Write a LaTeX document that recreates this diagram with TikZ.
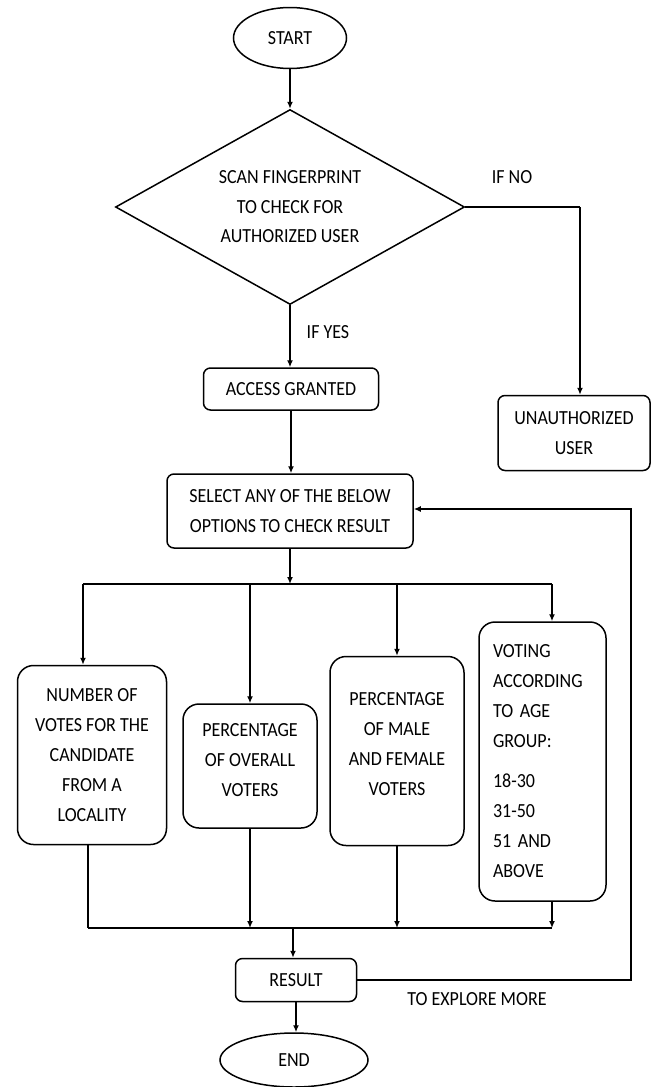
\documentclass[tikz,border=0pt]{standalone}
\usepackage{fontspec}
\setmainfont{Carlito}[FakeStretch=0.9]
\usetikzlibrary{shapes.geometric,arrows.meta}
\begin{document}
\begin{tikzpicture}[x=1pt,y=-1pt,
  every node/.style={font=\fontsize{20}{30}\selectfont},
  line/.style={line width=1.5pt},
  arr/.style={line, -{Latex[length=7pt,width=6pt]}},
  term/.style={draw, line width=1.5pt, ellipse, inner sep=0pt},
  box/.style={draw, line width=1.5pt, rounded corners=7pt, align=center, inner sep=0pt},
  tall/.style={box, rounded corners=16pt},
  lbl/.style={inner sep=0pt}
]
\fill[white] (0,0) rectangle (657,1087);
\useasboundingbox (0,0) rectangle (657,1087);

\node[term, minimum width=113pt, minimum height=61pt] (start) at (290,38) {START};
\node[draw, diamond, line width=1.5pt, aspect=1.79, inner sep=0pt, minimum width=349pt, minimum height=195pt, align=center, font=\fontsize{20}{29.5}\selectfont] (dec) at (290,207) {SCAN FINGERPRINT\\TO CHECK FOR\\AUTHORIZED USER};
\node[lbl] (ifno) at (512,177) {IF NO};
\coordinate (c1) at (580,207);
\node[box, minimum width=152pt, minimum height=75pt] (unauth) at (574,433) {UNAUTHORIZED\\USER};
\node[lbl] (ifyes) at (328,332) {IF YES};
\node[box, minimum width=175pt, minimum height=42pt] (access) at (291,389) {ACCESS GRANTED};
\node[box, minimum width=246pt, minimum height=74pt] (select) at (290,511) {SELECT ANY OF THE BELOW\\OPTIONS TO CHECK RESULT};
\coordinate (br) at (290,584);
\coordinate (bl) at (83,584);
\coordinate (brr) at (552,584);

\node[tall, minimum width=149pt, minimum height=179pt] (b1) at (92,755) {NUMBER OF\\VOTES FOR THE\\CANDIDATE\\FROM A\\LOCALITY};
\node[tall, minimum width=134pt, minimum height=124pt] (b2) at (250,766) {PERCENTAGE\\OF OVERALL\\VOTERS\\[-18pt]};
\node[tall, minimum width=134pt, minimum height=189pt] (b3) at (397,751) {PERCENTAGE\\OF MALE\\AND FEMALE\\VOTERS\\[-16pt]};
\node[tall, minimum width=127pt, minimum height=279pt, align=left, text width=99pt, inner xsep=14pt] (b4) at (542.5,761.5) {VOTING\\ACCORDING\\TO AGE\\GROUP:\\[10pt]18-30\\31-50\\51 AND\\ABOVE};

\coordinate (m1) at (88,928);
\coordinate (m4) at (552,928);
\coordinate (mr) at (293,928);
\node[box, minimum width=121pt, minimum height=43pt] (result) at (296,980) {RESULT};
\node[lbl] (explore) at (477,999) {TO EXPLORE MORE};
\node[term, minimum width=148pt, minimum height=54pt] (end) at (294,1060) {END};
\coordinate (fb) at (631,509);

% connectors
\draw[arr] (start) -- (dec);
\draw[line] (dec.east) -- (c1);
\draw[arr] (c1) -- (c1 |- unauth.north);
\draw[arr] (dec.south) -- (dec.south |- access.north);
\draw[arr] (access) -- (access.south |- select.north);
\draw[arr] (select.south) -- (br);
\draw[line] (bl) -- (brr);
\draw[arr] (bl) -- (bl |- b1.north);
\draw[arr] (bl -| b2.north) -- (b2.north);
\draw[arr] (bl -| b3.north) -- (b3.north);
\draw[arr] (brr) -- (brr |- b4.north);
\draw[line] (b1.south -| m1) -- (m1);
\draw[arr] (b2.south) -- (b2.south |- m1);
\draw[arr] (b3.south) -- (b3.south |- m1);
\draw[arr] (b4.south -| m4) -- (m4);
\draw[line] (m1) -- (m4);
\draw[arr] (mr) -- (mr |- result.north);
\draw[arr] (result.east) -| (fb) -- (fb -| select.east);
\draw[arr] (result.south) -- (result.south |- end.north);
\end{tikzpicture}
\end{document}
